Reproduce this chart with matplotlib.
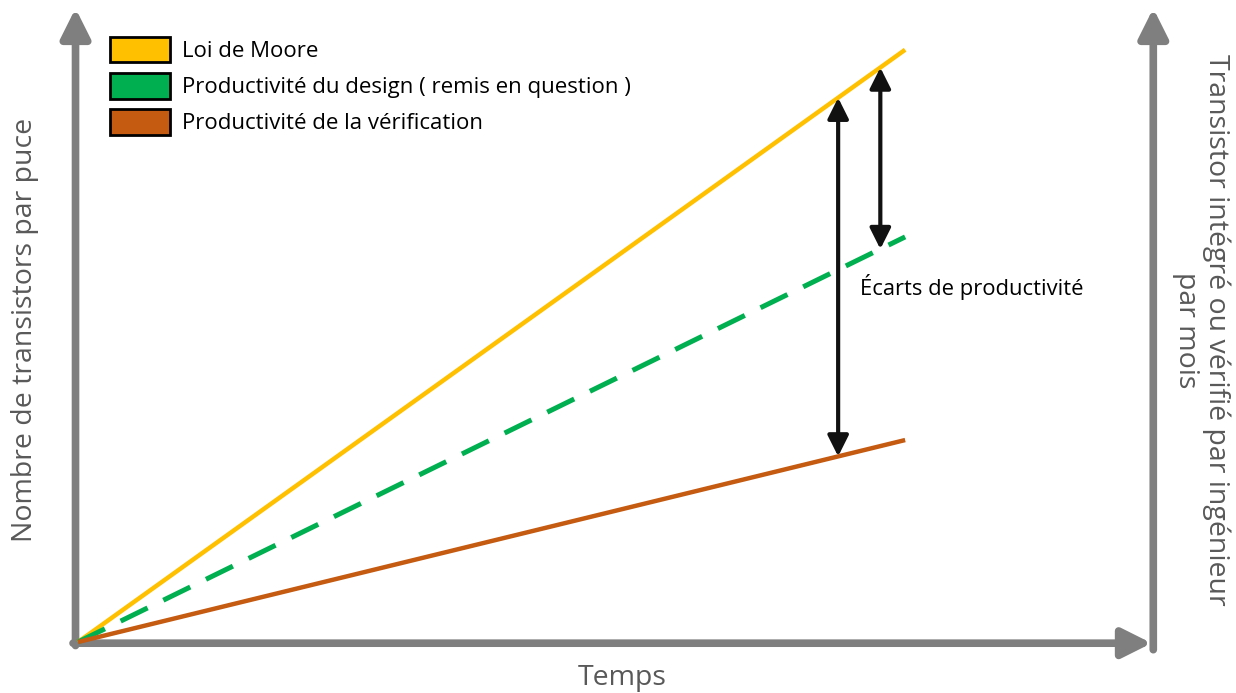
"""Écarts de productivité : loi de Moore vs design vs vérification."""

import numpy as np
import matplotlib
matplotlib.use("Agg")
import matplotlib.pyplot as plt
from matplotlib.patches import Patch

plt.rcParams["font.family"] = ["Open Sans", "DejaVu Sans"]

# données schématiques (unités arbitraires)
temps = [0, 10]
moore = [0, 100]
design = [0, 68.4]
verification = [0, 34.1]

labels = [
    "Loi de Moore",
    "Productivité du design ( remis en question )",
    "Productivité de la vérification",
]
couleurs = ["#FFC000", "#00B050", "#C55A11"]

# positions des flèches d'écart (en temps)
x_ecart_long = 9.19
x_ecart_court = 9.70

gris = "#7F7F7F"
gris_texte = "#595959"

fig = plt.figure(figsize=(12.36, 6.93), dpi=100)
ax = fig.add_axes([0, 0, 1, 1])
ax.set_xlim(-0.943, 14.0)
ax.set_ylim(-8.61, 108.4)
ax.axis("off")

# axes dessinés à la main (flèches grises)
axe_style = dict(arrowstyle="-|>,head_length=1.1,head_width=0.55",
                 color=gris, lw=5.5, shrinkA=0, shrinkB=0, mutation_scale=16)
ax.annotate("", xy=(-0.03, 107.0), xytext=(-0.03, -0.6), arrowprops=axe_style)
ax.annotate("", xy=(12.98, -0.2), xytext=(-0.06, -0.2), arrowprops=axe_style)
ax.annotate("", xy=(13.0, 107.0), xytext=(13.0, -1.3), arrowprops=axe_style)

# courbes
ax.plot(temps, moore, color=couleurs[0], lw=3.2, solid_capstyle="butt", zorder=3)
ax.plot(temps, design, color=couleurs[1], lw=3.6, dashes=(6, 3.5), zorder=3)
ax.plot(temps, verification, color=couleurs[2], lw=3.2, solid_capstyle="butt", zorder=3)

# flèches d'écart
ecart_style = dict(arrowstyle="<|-|>,head_length=0.9,head_width=0.45",
                   color="#111111", lw=3, shrinkA=0, shrinkB=0, mutation_scale=14)
ax.annotate("", xy=(x_ecart_long, np.interp(x_ecart_long, temps, moore)),
            xytext=(x_ecart_long, np.interp(x_ecart_long, temps, verification)),
            arrowprops=ecart_style, zorder=4)
ax.annotate("", xy=(x_ecart_court, np.interp(x_ecart_court, temps, moore)),
            xytext=(x_ecart_court, np.interp(x_ecart_court, temps, design)),
            arrowprops=ecart_style, zorder=4)

ax.text(9.45, 60.0, "Écarts de productivité", fontsize=15.8, color="black",
        ha="left", va="center")

# titres des axes
ax.text(6.58, -6.1, "Temps", fontsize=20.5, color=gris_texte, ha="center", va="center")
ax.text(-0.64, 52.7, "Nombre de transistors par puce", fontsize=20.5,
        color=gris_texte, rotation=90, ha="center", va="center")
ax.text(13.58, 52.7, "Transistor intégré ou vérifié par ingénieur\npar mois",
        fontsize=20.5, color=gris_texte, rotation=-90, ha="center", va="center",
        multialignment="center", linespacing=1.12)

# légende
handles = [Patch(facecolor=c, edgecolor="black", lw=2) for c in couleurs]
ax.legend(handles, labels, loc="upper left", bbox_to_anchor=(0.082, 0.96),
          frameon=False, fontsize=16, handlelength=2.7, handleheight=1.4,
          handletextpad=0.55, labelspacing=0.48, borderaxespad=0)

fig.savefig("out.png", dpi=100)
